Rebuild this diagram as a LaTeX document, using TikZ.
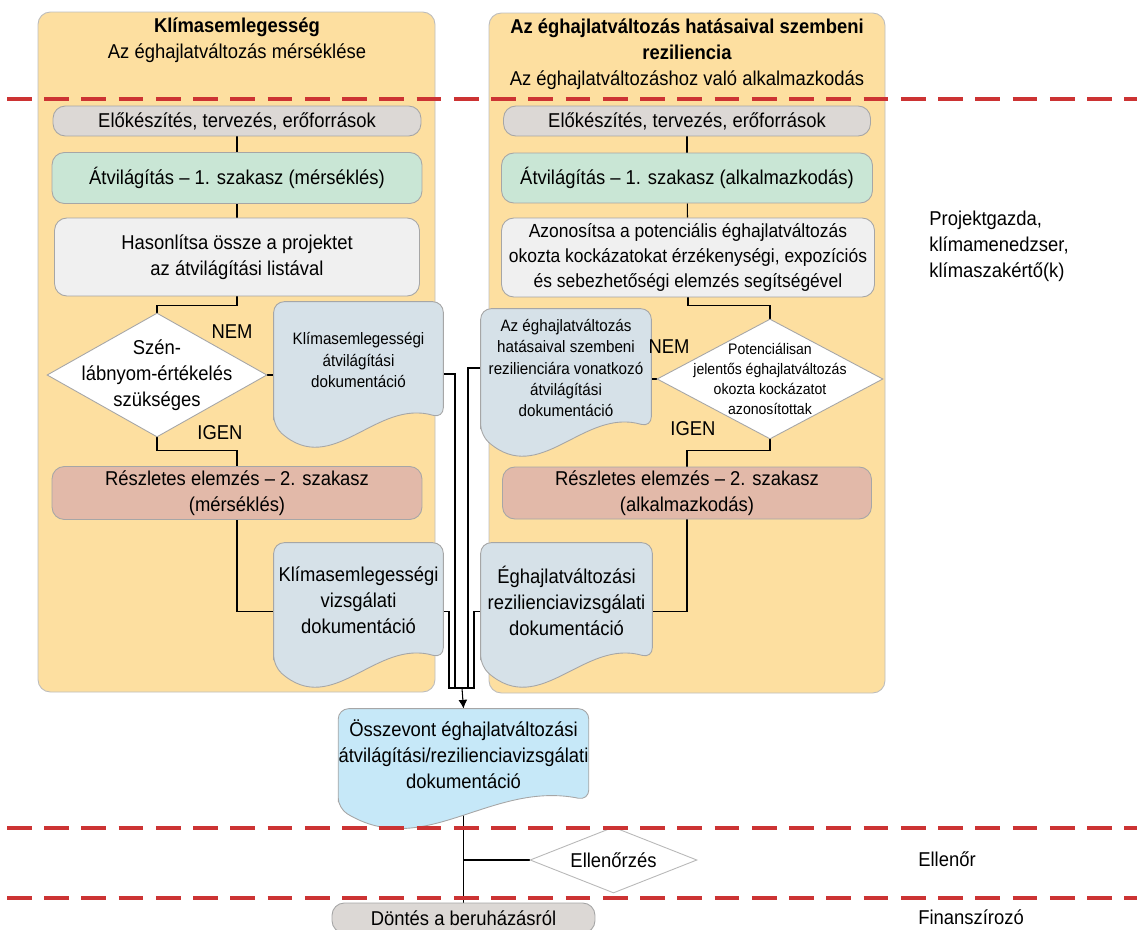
\documentclass[tikz,border=0pt]{standalone}
\usepackage{fontspec}
\setmainfont[FakeStretch=0.92]{Liberation Sans}
\usetikzlibrary{arrows.meta,positioning,calc,shapes.geometric}
\definecolor{PanelFill}{HTML}{FDDFA0}
\definecolor{PanelLine}{HTML}{BDBDBD}
\definecolor{BoxLine}{HTML}{A6A6A6}
\definecolor{PrepGray}{HTML}{DCD8D5}
\definecolor{ScreenGreen}{HTML}{C9E6D5}
\definecolor{CheckGray}{HTML}{F0F0F0}
\definecolor{DetailRose}{HTML}{E2B9A9}
\definecolor{DocBlue}{HTML}{D6E1E8}
\definecolor{MergeBlue}{HTML}{C6E8F8}
\definecolor{LaneRed}{HTML}{CC3333}
\pgfdeclarelayer{panel}
\pgfdeclarelayer{background}
\pgfdeclarelayer{docs}
\pgfsetlayers{panel,background,docs,main}

\newcommand\txtL{\fontsize{11.4}{14.8}\selectfont}
\newcommand\txtM{\fontsize{10.8}{14.2}\selectfont}
\newcommand\txtS{\fontsize{9.4}{12.2}\selectfont}
\newcommand\txtXS{\fontsize{8.7}{11.3}\selectfont}

% document outline with wavy bottom: node name, width (px), fill
\newcommand\docshape[3]{%
  \begin{pgfonlayer}{docs}
    \path[draw=BoxLine, line width=0.5pt, fill=#3, rounded corners=6pt]
      ($(#1.south west)+(0,8)$) -- (#1.north west) -- (#1.north east)
      -- (#1.south east)
      .. controls +(-0.4*#2,-20) and +(0.35*#2,52) .. ($(#1.south west)+(0,8)$)
      -- cycle;
  \end{pgfonlayer}}

\begin{document}
\begin{tikzpicture}[
  x=0.02cm, y=-0.02cm,
  font=\txtL,
  >=Latex,
  % process box
  proc/.style={draw=BoxLine, line width=0.5pt, rounded corners=7pt,
               align=center, inner sep=2pt},
  % yes/no decision
  decis/.style={shape=diamond, draw=BoxLine, line width=0.5pt, fill=white,
                inner sep=0pt, aspect=1.8},
  % document text area (outline drawn by \docshape)
  docbox/.style={align=center, inner xsep=0pt, inner ysep=2pt},
  % connector
  conn/.style={draw=black, line width=0.6pt},
  % lane separator
  lane/.style={draw=LaneRed, line width=1.8pt, dash pattern=on 14pt off 7.2pt},
  % column panel
  panel/.style={draw=PanelLine, fill=PanelFill, line width=0.5pt,
                rounded corners=7pt},
  plain/.style={align=center, inner sep=0pt},
]

\useasboundingbox (0,0) rectangle (1137,930);

% ── Column centres (px) ──────────────────────────────────────────────────────
\def\cL{237}   % mitigation column
\def\cR{687}   % adaptation column

%% ── Column panels ────────────────────────────────────────────────────────
\begin{pgfonlayer}{panel}
  \draw[panel] (38,12) rectangle (435,692);
  \draw[panel] (489,13) rectangle (885,693);
\end{pgfonlayer}

%% ── Titles ───────────────────────────────────────────────────────────────
\node[plain] (ltitle) at (\cL,40)
  {\textbf{Klímasemlegesség}\\Az éghajlatváltozás mérséklése};
\node[plain] (rtitle) at (\cR,54)
  {\textbf{Az éghajlatváltozás hatásaival szembeni}\\\textbf{reziliencia}\\
   Az éghajlatváltozáshoz való alkalmazkodás};

%% ── Left column ──────────────────────────────────────────────────────────
\node[proc, fill=PrepGray, minimum width=7.36cm, minimum height=0.6cm]
  (lprep) at (\cL,121) {Előkészítés, tervezés, erőforrások};
\node[proc, fill=ScreenGreen, minimum width=7.4cm, minimum height=1.02cm]
  (lscr) at (\cL,178) {Átvilágítás – 1. szakasz (mérséklés)};
\node[proc, fill=CheckGray, minimum width=7.3cm, minimum height=1.56cm]
  (lchk) at (\cL,257) {Hasonlítsa össze a projektet\\az átvilágítási listával};
\node[decis, minimum width=4.4cm, minimum height=2.48cm] (ldec) at (157,375) {};
\node[plain] (ldecq) at (ldec) {Szén-\\lábnyom-értékelés\\szükséges};
\node[docbox, font=\txtS, minimum width=3.38cm, minimum height=2.32cm]
  (ldoc1) at (358.5,360) {Klímasemlegességi\\átvilágítási\\dokumentáció};
\node[proc, fill=DetailRose, minimum width=7.4cm, minimum height=1.06cm]
  (ldet) at (\cL,493) {Részletes elemzés – 2. szakasz\\(mérséklés)};
\node[docbox, minimum width=3.38cm, minimum height=2.3cm]
  (ldoc2) at (358.5,600.5) {Klímasemlegességi\\vizsgálati\\dokumentáció};
\node (lnem) at (232,332) {NEM};
\node (ligen) at (220,433) {IGEN};

%% ── Right column ─────────────────────────────────────────────────────────
\node[proc, fill=PrepGray, minimum width=7.34cm, minimum height=0.6cm]
  (rprep) at (\cR,121) {Előkészítés, tervezés, erőforrások};
\node[proc, fill=ScreenGreen, minimum width=7.42cm, minimum height=1.0cm]
  (rscr) at (\cR,178) {Átvilágítás – 1. szakasz (alkalmazkodás)};
\node[proc, fill=CheckGray, font=\txtM, minimum width=7.46cm, minimum height=1.58cm]
  (rchk) at (688,257.5)
  {Azonosítsa a potenciális éghajlatváltozás\\okozta kockázatokat érzékenységi, expozíciós\\és sebezhetőségi elemzés segítségével};
\node[decis, minimum width=4.52cm, minimum height=2.4cm] (rdec) at (770,379) {};
\node[plain, font=\txtXS] (rdecq) at (rdec)
  {Potenciálisan\\jelentős éghajlatváltozás\\okozta kockázatot\\azonosítottak};
\node[docbox, font=\txtS, minimum width=3.4cm, minimum height=2.36cm]
  (rdoc1) at (566,368)
  {Az éghajlatváltozás\\hatásaival szembeni\\rezilienciára vonatkozó\\átvilágítási\\dokumentáció};
\node[proc, fill=DetailRose, minimum width=7.38cm, minimum height=1.04cm]
  (rdet) at (\cR,493) {Részletes elemzés – 2. szakasz\\(alkalmazkodás)};
\node[docbox, minimum width=3.42cm, minimum height=2.3cm]
  (rdoc2) at (566.5,600.5) {Éghajlatváltozási\\rezilienciavizsgálati\\dokumentáció};
\node (rnem) at (669,347) {NEM};
\node (rigen) at (693,429) {IGEN};

%% ── Merged output and approval ──────────────────────────────────────────
\node[docbox, minimum width=4.9cm, minimum height=1.82cm] (mdoc) at (463.5,754.5)
  {Összevont éghajlatváltozási\\átvilágítási/rezilienciavizsgálati\\dokumentáció};
\node[decis, draw=BoxLine!80, aspect=2.5, minimum width=3.34cm,
      minimum height=1.32cm] (ctrl) at (613.5,860) {Ellenőrzés};
\node[proc, fill=PrepGray, minimum width=5.26cm, minimum height=0.6cm]
  (decide) at (463.5,918) {Döntés a beruházásról};

%% ── Role labels ──────────────────────────────────────────────────────────
\node[anchor=west, align=left, inner sep=0pt] (rowner) at (929,246)
  {Projektgazda,\\klímamenedzser,\\klímaszakértő(k)};
\node[anchor=west, inner sep=0pt] (rcheck) at (918,859) {Ellenőr};
\node[anchor=west, inner sep=0pt] (rfund) at (918,917) {Finanszírozó};

%% ── Document outlines ───────────────────────────────────────────────────
\docshape{ldoc1}{169}{DocBlue}
\docshape{ldoc2}{169}{DocBlue}
\docshape{rdoc1}{170}{DocBlue}
\docshape{rdoc2}{171}{DocBlue}
\docshape{mdoc}{245}{MergeBlue}

%% ── Connectors ──────────────────────────────────────────────────────────
\coordinate (mj) at (462,688);
\begin{pgfonlayer}{background}
  \draw[conn] (lprep) -- (lscr);
  \draw[conn] (lscr) -- (lchk);
  \draw[conn] (lchk.south) -- ++(0,9) -| (ldec.north);
  \draw[conn] (ldec.east) -- (ldec.east -| ldoc1.west);
  \draw[conn] (ldec.south) -- ++(0,13) -| (ldet.north);
  \draw[conn] (ldet.south) |- ($(ldoc2.west)+(0,11)$);

  \draw[conn] (rprep) -- (rscr);
  \draw[conn] (rscr) -- (rchk);
  \draw[conn] (rchk.south) -- ++(0,8) -| (rdec.north);
  \draw[conn] (rdec.west) -- (rdec.west -| rdoc1.east);
  \draw[conn] (rdec.south) -- ++(0,11) -| (rdet.north);
  \draw[conn] (rdet.south) |- ($(rdoc2.east)+(0,11)$);

  \draw[conn] ($(ldoc2.east)+(0,11)$) -| ($(mj)+(-13,-8)$) |- (mj);
  \draw[conn] ($(ldoc1.east)+(0,14)$) -| ($(mj)+(-7,-8)$) |- (mj);
  \draw[conn] (rdoc1.west) -| ($(mj)+(6,-8)$) |- (mj);
  \draw[conn] ($(rdoc2.west)+(0,11)$) -| ($(mj)+(12,-8)$) |- (mj);
  \draw[conn, -{Latex[length=5pt,width=5pt]}] (mj) -- (mdoc.north);

  \draw[conn] (mdoc.south) -- (decide.north);
  \draw[conn] (ctrl.west -| mdoc.south) -- (ctrl.west);
\end{pgfonlayer}

%% ── Lane separators ─────────────────────────────────────────────────────
\foreach \y in {99,828,898}{
  \draw[lane] (7,\y) -- (1137,\y);
}

\end{tikzpicture}
\end{document}
